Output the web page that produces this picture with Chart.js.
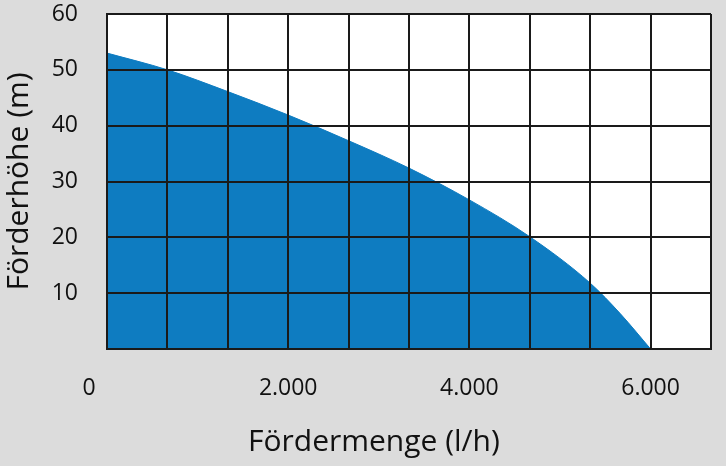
<!DOCTYPE html>
<html>
<head>
<meta charset="utf-8">
<script src="https://cdn.jsdelivr.net/npm/chart.js@4"></script>
<style>
  html, body { margin: 0; padding: 0; background: #dcdcdc; }
  #wrap { width: 726px; height: 466px; }
</style>
</head>
<body>
<div id="wrap"><canvas id="pumpChart"></canvas></div>
<script>
// Kennlinie: Fördermenge (l/h) -> Förderhöhe (m)
const flowValues = [0, 667, 1333, 2000, 2667, 3333, 4000, 4667, 5333, 5667, 6000];
const headValues = [53, 50, 46.1, 41.9, 37.3, 32.4, 26.7, 20.1, 11.8, 6.3, 0];

// Rasterlinien der x-Achse und ihre Beschriftungen
const xGrid = [0, 666.67, 1333.33, 2000, 2666.67, 3333.33, 4000, 4666.67, 5333.33, 6000, 6666.67];
const xTickLabels = ['0      ', '', '', '2.000', '', '', '4.000', '', '', '6.000', ''];
const yTickLabels = ['', '10', '20', '30', '40', '50', '60'];

const plotBackground = {
  id: 'plotBackground',
  beforeDatasetsDraw(chart) {
    const { ctx, chartArea: a } = chart;
    ctx.save();
    ctx.fillStyle = '#ffffff';
    ctx.fillRect(a.left, a.top, a.right - a.left, a.bottom - a.top);
    ctx.restore();
  }
};

Chart.defaults.font.family = "'Open Sans', sans-serif";
Chart.defaults.color = '#111';

new Chart(document.getElementById('pumpChart'), {
  type: 'line',
  data: {
    datasets: [{
      data: flowValues.map((x, i) => ({ x: x, y: headValues[i] })),
      fill: 'origin',
      backgroundColor: '#0e7cc1',
      borderColor: '#0e7cc1',
      borderWidth: 1,
      pointRadius: 0,
      cubicInterpolationMode: 'monotone'
    }]
  },
  options: {
    responsive: true,
    maintainAspectRatio: false,
    animation: false,
    layout: { padding: { left: 0, right: 15, top: 14, bottom: 0 } },
    plugins: { legend: { display: false }, tooltip: { enabled: false } },
    scales: {
      x: {
        type: 'linear',
        min: 0,
        max: 6666.67,
        afterBuildTicks: (scale) => { scale.ticks = xGrid.map(v => ({ value: v })); },
        afterFit: (scale) => {
          scale.paddingLeft = 0;
          scale.paddingRight = 0;
          scale.height = 117;
        },
        grid: { color: '#1a1a1a', lineWidth: 2, drawTicks: false, z: 1 },
        border: { color: '#1a1a1a', width: 2, z: 1 },
        ticks: {
          autoSkip: false,
          maxRotation: 0,
          padding: 26,
          font: { size: 23 },
          callback: (v, i) => xTickLabels[i]
        },
        title: {
          display: true,
          text: 'Fördermenge (l/h)         ',
          font: { size: 30 },
          padding: { top: 0, bottom: 6 }
        }
      },
      y: {
        min: 0,
        max: 60,
        afterFit: (scale) => {
          scale.paddingTop = 0;
          scale.paddingBottom = 0;
          scale.width = 107;
        },
        grid: { color: '#1a1a1a', lineWidth: 2, drawTicks: false, z: 1 },
        border: { color: '#1a1a1a', width: 2, z: 1 },
        ticks: {
          stepSize: 10,
          padding: 29,
          font: { size: 23 },
          callback: (v, i) => yTickLabels[i]
        },
        title: {
          display: true,
          text: 'Förderhöhe (m)',
          font: { size: 30 },
          padding: { top: 1, bottom: 0 }
        }
      }
    }
  },
  plugins: [plotBackground]
});
</script>
</body>
</html>
